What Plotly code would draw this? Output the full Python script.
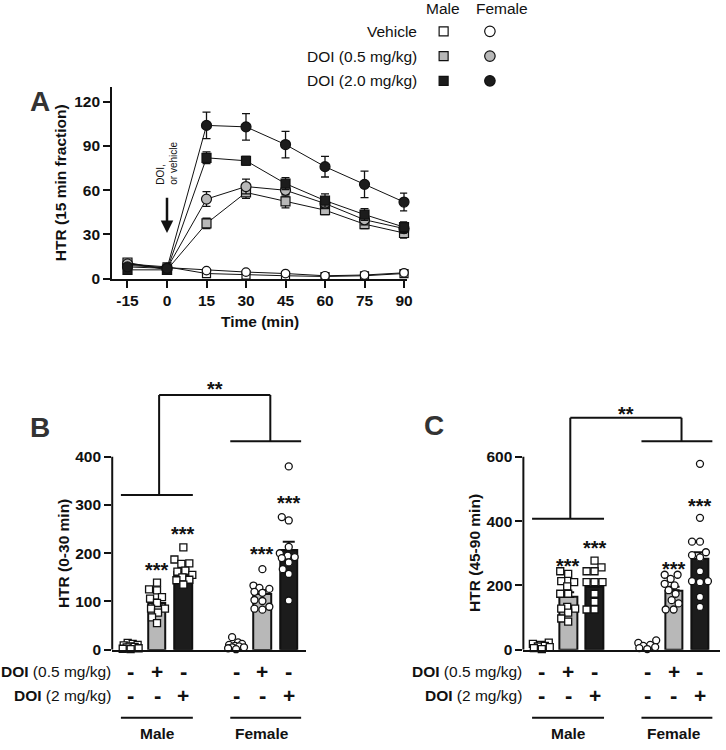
import plotly.graph_objects as go

# ---------------- data ----------------
# Panel A: HTR per 15-min fraction (mean, SEM)
time_min = [-15, 0, 15, 30, 45, 60, 75, 90]
male_vehicle = [10, 8, 3.5, 2.5, 2, 1.5, 2, 3.5]
male_vehicle_sem = [2, 1, 1, 0.8, 0.8, 0.5, 0.5, 1]
female_vehicle = [9, 7.5, 5.5, 4.5, 3.5, 2, 2.5, 4]
female_vehicle_sem = [2, 1, 1, 0.8, 0.8, 0.5, 0.5, 1]
male_doi05 = [11, 6, 37.5, 58.5, 52.5, 46.5, 37, 31]
male_doi05_sem = [2, 1, 3.5, 4, 4.5, 3, 3, 3.5]
female_doi05 = [10, 7, 54, 62.5, 60, 51, 40, 34]
female_doi05_sem = [2, 1, 5, 5, 4, 3.5, 3.5, 3]
male_doi2 = [6, 6, 82, 80, 64.5, 53, 43.5, 35]
male_doi2_sem = [1.5, 1, 4, 3, 4, 4.5, 4, 3.5]
female_doi2 = [8, 7, 104, 103, 91, 76, 64, 52]
female_doi2_sem = [2, 1, 9, 9, 9, 7, 9, 6]
time_ticktext = ["-15", "0", "15", "30", "45", "60", "75", "90"]

legend_rows = ["Vehicle", "DOI (0.5 mg/kg)", "DOI (2.0 mg/kg)"]
legend_cols = ["Male", "Female"]

# Panels B / C
groups = ["Male", "Female"]
dose05_signs = ["-", "+", "-", "-", "+", "-"]
dose2_signs = ["-", "-", "+", "-", "-", "+"]

b_means = [8, 96, 161, 10, 116, 206]
b_sems = [1.5, 8, 6, 2.5, 8, 18]
b_points = [
    [14, 12, 10, 9, 7, 6, 5, 3, 2, 1],
    [139, 125, 123, 109, 106, 97, 85, 85, 77, 67, 55],
    [212, 187, 179, 178, 164, 162, 155, 150, 145, 144, 135],
    [26, 15, 12, 10, 8, 7, 5, 5, 3, 1],
    [167, 133, 128, 126, 120, 118, 103, 101, 89, 85, 83],
    [380, 275, 268, 213, 200, 195, 192, 190, 181, 167, 157, 102],
]
b_star_y = [None, 176, 250, None, 208, 315]
b_bracket = dict(male=321, female=432, top=528, label=551)

c_means = [12, 164, 195, 13, 185, 282]
c_sems = [3, 15, 17, 3, 11, 21]
c_points = [
    [22, 18, 15, 12, 10, 8, 5, 2],
    [244, 236, 213, 210, 197, 174, 174, 133, 128, 128, 115, 97, 87],
    [277, 256, 244, 244, 210, 210, 210, 174, 149, 125, 125],
    [29, 21, 15, 12, 8, 5, 2],
    [233, 233, 220, 205, 200, 185, 174, 154, 144, 125, 125],
    [578, 410, 336, 336, 303, 294, 287, 244, 213, 213, 210, 164, 133],
]
c_star_y = [None, 277, 333, None, 265, 462]
c_bracket = dict(male=407, female=648, top=721, label=750)

# ---------------- layout helpers ----------------
W, H = 726, 750
FONT = "Liberation Sans, Arial, Helvetica, sans-serif"
BLACK = "#111111"
GRAY = "#b8b8b8"
DARK = "#1c1c1c"


def px_y(p):
    return 1 - p / H


def px_x(p):
    return p / W


def ann(text, **kw):
    d = dict(text=text, showarrow=False, xanchor="center", yanchor="middle")
    d.update(kw)
    return d


cat_pos = [i + i // 3 for i in range(6)]
bar_colors = ["white", GRAY, DARK, "white", GRAY, DARK]
bar_symbols = ["square"] * 3 + ["circle"] * 3
BAR_W = 0.66
male_span = (-0.37, 2.36, 1.08)
female_span = (3.78, 6.47, 5.3)

fig = go.Figure()

# ---------------- Panel A ----------------
a_series = [
    (male_vehicle, male_vehicle_sem, "square", "white", 8),
    (female_vehicle, female_vehicle_sem, "circle", "white", 8.5),
    (male_doi05, male_doi05_sem, "square", GRAY, 9),
    (female_doi05, female_doi05_sem, "circle", GRAY, 10),
    (male_doi2, male_doi2_sem, "square", DARK, 9),
    (female_doi2, female_doi2_sem, "circle", DARK, 10),
]
for vals, sem, sym, col, size in a_series:
    fig.add_trace(go.Scatter(
        x=time_min, y=vals, mode="lines+markers",
        line=dict(color=BLACK, width=1),
        marker=dict(symbol=sym, size=size, color=col, line=dict(color=BLACK, width=1.2)),
        error_y=dict(type="data", array=sem, color=BLACK, thickness=1.3, width=4),
        xaxis="x", yaxis="y", showlegend=False, cliponaxis=False))

# ---------------- swarm jitter ----------------
def swarm(values, ppu_y, ppu_x, msize=7.5, maxoff=9):
    placed = []
    offs = [0.0] * len(values)
    order = sorted(range(len(values)), key=lambda i: values[i])
    cands = [0]
    for k in range(1, maxoff + 1):
        cands += [-k, k]
    for i in order:
        y = values[i] * ppu_y
        best = None
        for cx in cands:
            if all((cx - a) ** 2 + (y - b) ** 2 >= msize ** 2 for a, b in placed):
                best = cx
                break
        if best is None:
            best = max(cands, key=lambda cx: min(((cx - a) ** 2 + (y - b) ** 2) for a, b in placed))
        placed.append((best, y))
        offs[i] = best / ppu_x
    return offs


# ---------------- Panels B, C ----------------
panels = [
    dict(xa="x2", ya="y2", x0=113, x1=308, xr=(-0.7, 6.65), y0=656.7, ppu=0.4875, ytop=580,
         ymax=400, dt=100, means=b_means, sems=b_sems, pts=b_points, stars=b_star_y,
         br=b_bracket, title="HTR (0-30 min)", title_x=63.3),
    dict(xa="x3", ya="y3", x0=527, x1=725, xr=(-0.7, 6.76), y0=656.7, ppu=0.325, ytop=790,
         ymax=600, dt=200, means=c_means, sems=c_sems, pts=c_points, stars=c_star_y,
         br=c_bracket, title="HTR (45-90 min)", title_x=478),
]

annotations = []
shapes = []


def hline(xref, yref, x0, x1, y, w=2):
    shapes.append(dict(type="line", xref=xref, yref=yref, x0=x0, x1=x1, y0=y, y1=y,
                       line=dict(color=BLACK, width=w)))


def vline(xref, yref, x, y0, y1, w=2):
    shapes.append(dict(type="line", xref=xref, yref=yref, x0=x, x1=x, y0=y0, y1=y1,
                       line=dict(color=BLACK, width=w)))


BOLD = dict(family=FONT, weight="bold", color=BLACK)

for p in panels:
    ppu_x = (p["x1"] - p["x0"]) / (p["xr"][1] - p["xr"][0])
    fig.add_trace(go.Bar(
        x=cat_pos, y=p["means"], width=BAR_W,
        marker=dict(color=bar_colors, line=dict(color=BLACK, width=2)),
        error_y=dict(type="data", array=p["sems"], arrayminus=[0] * 6, symmetric=False,
                     color=BLACK, thickness=2, width=6),
        xaxis=p["xa"], yaxis=p["ya"], showlegend=False))
    for pos, vals, sym in zip(cat_pos, p["pts"], bar_symbols):
        offs = swarm(vals, p["ppu"], ppu_x)
        fig.add_trace(go.Scatter(
            x=[pos + o for o in offs], y=vals, mode="markers",
            marker=dict(symbol=sym, size=7, color="white", line=dict(color=BLACK, width=1.3)),
            xaxis=p["xa"], yaxis=p["ya"], showlegend=False, cliponaxis=False))
    # y axis line up to max tick
    vline(p["xa"] + " domain", p["ya"], 0, 0, p["ymax"])
    # brackets
    br = p["br"]
    hline(p["xa"], p["ya"], male_span[0], male_span[1], br["male"])
    hline(p["xa"], p["ya"], female_span[0], female_span[1], br["female"])
    vline(p["xa"], p["ya"], male_span[2], br["male"], br["top"])
    vline(p["xa"], p["ya"], female_span[2], br["female"], br["top"])
    hline(p["xa"], p["ya"], male_span[2], female_span[2], br["top"])
    annotations.append(ann("**", xref=p["xa"], yref=p["ya"],
                           x=(male_span[2] + female_span[2]) / 2, y=br["label"], yshift=-5,
                           font=dict(size=20, **BOLD)))
    for pos, sy in zip(cat_pos, p["stars"]):
        if sy is not None:
            annotations.append(ann("***", xref=p["xa"], yref=p["ya"], x=pos, y=sy, yshift=-5,
                                   font=dict(size=20, **BOLD)))
    # y title
    annotations.append(ann(p["title"], xref="paper", yref=p["ya"], x=px_x(p["title_x"]),
                           y=p["ymax"] / 2, textangle=-90, font=dict(size=15.5, **BOLD)))
    # dose rows
    for lab, signs, ypx in [("(0.5 mg/kg)", dose05_signs, 678.3), ("(2 mg/kg)", dose2_signs, 703.3)]:
        annotations.append(ann("<b>DOI</b> " + lab, xref=p["xa"] + " domain", yref="paper",
                               x=0, y=px_y(ypx), xanchor="right", xshift=1,
                               font=dict(size=15.5, family=FONT, color=BLACK)))
        for pos, s in zip(cat_pos, signs):
            annotations.append(ann(s, xref=p["xa"], yref="paper", x=pos, y=px_y(ypx),
                                   font=dict(size=22 if s == "-" else 21, **BOLD)))
    # group underlines and labels
    hline(p["xa"], "paper", male_span[0], male_span[1], px_y(725.5))
    hline(p["xa"], "paper", female_span[0], female_span[1], px_y(725.5))
    for g, pos in zip(groups, [cat_pos[1], cat_pos[4]]):
        annotations.append(ann(g, xref=p["xa"], yref="paper", x=pos, y=px_y(741.5),
                               font=dict(size=15.5, **BOLD)))

# ---------------- Legend (hidden axes) ----------------
leg_fill = ["white", GRAY, DARK]
for col, sym, size in [(legend_cols[0], "square", 9), (legend_cols[1], "circle", 10.5)]:
    fig.add_trace(go.Scatter(
        x=[col] * 3, y=legend_rows, mode="markers",
        marker=dict(symbol=sym, size=size, color=leg_fill, line=dict(color=BLACK, width=1.2)),
        xaxis="x4", yaxis="y4", showlegend=False, hoverinfo="skip"))
for i, r in enumerate(legend_rows):
    annotations.append(ann(r, xref="x4", yref="y4", x=-0.5, y=i, xanchor="right", xshift=-1,
                           font=dict(size=15.5, family=FONT, color=BLACK)))
for i, (c, shift) in enumerate(zip(legend_cols, [-1, 12])):
    annotations.append(ann(c, xref="x4", yref="paper", x=i, y=px_y(9), xshift=shift,
                           font=dict(size=15.5, family=FONT, color=BLACK)))

# ---------------- Panel A annotations ----------------
annotations += [
    ann("HTR (15 min fraction)", xref="paper", yref="y", x=px_x(61.7), y=65, textangle=-90,
        font=dict(size=15.5, **BOLD)),
    ann("Time (min)", xref="x domain", yref="paper", x=0.5, y=px_y(325),
        font=dict(size=15.5, **BOLD)),
    ann("DOI,<br>or vehicle", xref="x", yref="y", x=0, y=78, textangle=-90, align="left",
        font=dict(size=10, family=FONT, color=BLACK)),
    dict(text="", xref="x", yref="y", x=0, y=31, ax=0, ay=56, axref="x", ayref="y",
         showarrow=True, arrowhead=2, arrowsize=1, arrowwidth=2.5, arrowcolor=BLACK),
]
for letter, lx, ly in [("A", 40, 103), ("B", 40, 431.7), ("C", 437.3, 430)]:
    annotations.append(ann(letter, xref="paper", yref="paper", x=px_x(lx), y=px_y(ly),
                           font=dict(size=28, family=FONT, weight="bold", color="#333333")))

# ---------------- axes ----------------
tickfont = dict(size=15.5, family=FONT, weight="bold", color=BLACK)
common_tick = dict(ticks="outside", ticklen=7, tickwidth=2, tickcolor=BLACK, showgrid=False,
                   zeroline=False, tickfont=tickfont)

layout_axes = dict(
    xaxis=dict(domain=[px_x(113), px_x(410)], range=[-20.8, 91.2], tickvals=time_min,
               ticktext=time_ticktext,
               showline=True, linewidth=2, linecolor=BLACK, anchor="y", **common_tick),
    yaxis=dict(domain=[px_y(281.7), px_y(88)], range=[0, 130], tickvals=[0, 30, 60, 90, 120],
               showline=True, linewidth=2, linecolor=BLACK, anchor="x", **common_tick),
    xaxis4=dict(domain=[px_x(423.4), px_x(516.6)], range=[-0.5, 1.5], type="category",
                categoryarray=legend_cols, visible=False, anchor="y4"),
    yaxis4=dict(domain=[px_y(94.2), px_y(19.2)], range=[2.5, -0.5], type="category",
                categoryarray=legend_rows, visible=False, anchor="x4"),
)
for i, p in enumerate(panels):
    n = p["xa"][1:]
    layout_axes["xaxis" + n] = dict(domain=[px_x(p["x0"]), px_x(p["x1"])], range=list(p["xr"]),
                                    showline=True, linewidth=2, linecolor=BLACK, showticklabels=False,
                                    ticks="", showgrid=False, zeroline=False, anchor=p["ya"])
    layout_axes["yaxis" + n] = dict(domain=[px_y(p["y0"]), px_y(p["y0"] - p["ytop"] * p["ppu"])],
                                    range=[0, p["ytop"]],
                                    tickvals=list(range(0, p["ymax"] + 1, p["dt"])),
                                    showline=False, anchor=p["xa"], **common_tick)

fig.update_layout(
    width=W, height=H, margin=dict(l=0, r=0, t=0, b=0),
    paper_bgcolor="white", plot_bgcolor="rgba(0,0,0,0)",
    font=dict(family=FONT, color=BLACK),
    bargap=0, showlegend=False, hovermode=False,
    annotations=annotations, shapes=shapes,
    **layout_axes,
)

fig.write_html("out.html", config={"displayModeBar": False},
               post_script="document.body.style.margin='0';")
